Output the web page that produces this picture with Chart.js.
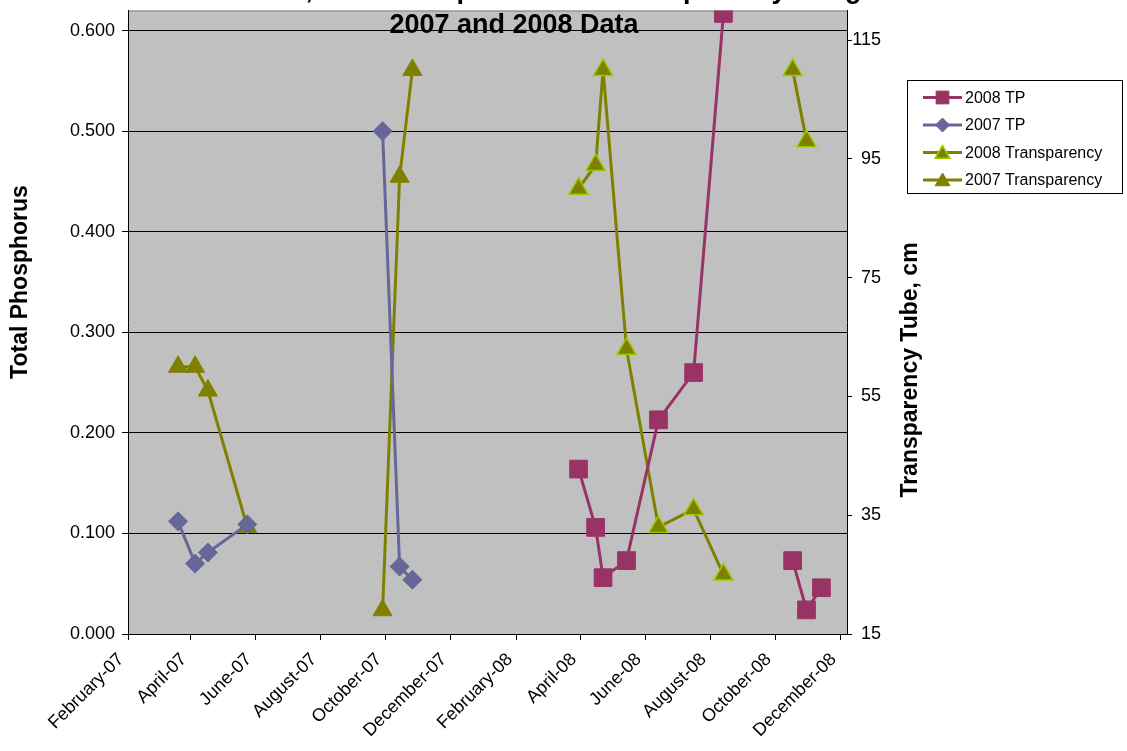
<!DOCTYPE html>
<html>
<head>
<meta charset="utf-8">
<title>Total Phosphorus and Transparency, 2007 and 2008</title>
<script src="https://cdn.jsdelivr.net/npm/chart.js@4.4.1/dist/chart.umd.min.js"></script>
<style>
  html, body { margin: 0; padding: 0; background: #ffffff; overflow: hidden; }
  #wrap { position: relative; width: 1127px; height: 751px; overflow: hidden; }
  /* the canvas is pulled up a little so the plot panel starts close to the top edge */
  #chart { display: block; margin-top: -3px; }
</style>
</head>
<body>
<div id="wrap"><canvas id="chart" width="1127" height="754"></canvas></div>
<script>
// ---- Sampling dates and readings (null = break between sampling seasons) ----
const dates2007 = ['2007-03-20', '2007-04-05', '2007-04-17', '2007-05-24', null,
                   '2007-09-28', '2007-10-14', '2007-10-26'];
const tp2007 = [0.112, 0.070, 0.081, 0.109, null, 0.500, 0.067, 0.054];
const transparency2007 = [60, 60, 56, 33, null, 19, 92, 110];

const dates2008 = ['2008-03-30', '2008-04-15', '2008-04-22', '2008-05-14', '2008-06-13',
                   '2008-07-16', '2008-08-13', null, '2008-10-17', '2008-10-30', '2008-11-13'];
const tp2008 = [0.164, 0.106, 0.056, 0.073, 0.213, 0.260, 0.617, null, 0.073, 0.024, 0.046];
const transparency2008 = [90, 94, 110, 63, 33, 36, 25, null, 110, 98, null];

// ---- Axis ticks and labels ----
const xTickDates = ['2007-02-01', '2007-04-01', '2007-06-01', '2007-08-01', '2007-10-01', '2007-12-01',
                    '2008-02-01', '2008-04-01', '2008-06-01', '2008-08-01', '2008-10-01', '2008-12-01'];
const xTickLabels = ['February-07', 'April-07', 'June-07', 'August-07', 'October-07', 'December-07',
                     'February-08', 'April-08', 'June-08', 'August-08', 'October-08', 'December-08'];
const xRange = ['2007-02-01', '2008-12-07'];
const tpTicks = [0, 0.1, 0.2, 0.3, 0.4, 0.5, 0.6];
const tpRange = [0, 0.62];
const transparencyTicks = [15, 35, 55, 75, 95, 115];
const transparencyRange = [15, 120];

const seriesNames = ['2008 TP', '2007 TP', '2008 Transparency', '2007 Transparency'];
const titleLines = ['Site, Total Phosphorus and Transparency Range', '2007 and 2008 Data'];
const leftAxisTitle = 'Total Phosphorus';
const rightAxisTitle = 'Transparency Tube, cm';

// ---- Helpers ----
const FONT = "'Liberation Sans', Arial, Helvetica, sans-serif";
const CANVAS_SHIFT = 3; // must match the CSS margin-top above
const dayNum = s => Date.parse(s + 'T00:00:00Z') / 86400000;
const toPoints = (dates, values) => dates.map((d, i) => ({
  x: d === null ? null : dayNum(d),
  y: values[i] === null || d === null ? null : values[i]
}));

const COLORS = {
  tp2008: '#993366',
  tp2007: '#666699',
  olive: '#808000',
  lime: '#99CC00'
};

const datasets = [
  {
    label: seriesNames[0], data: toPoints(dates2008, tp2008), yAxisID: 'y',
    borderColor: COLORS.tp2008, backgroundColor: COLORS.tp2008, borderWidth: 3,
    pointStyle: 'rect', pointRadius: 12.5, pointBorderWidth: 1,
    pointBackgroundColor: COLORS.tp2008, pointBorderColor: COLORS.tp2008,
    legendRadius: 9
  },
  {
    label: seriesNames[1], data: toPoints(dates2007, tp2007), yAxisID: 'y',
    borderColor: COLORS.tp2007, backgroundColor: COLORS.tp2007, borderWidth: 3,
    pointStyle: 'rectRot', pointRadius: 9.5, pointBorderWidth: 1,
    pointBackgroundColor: COLORS.tp2007, pointBorderColor: COLORS.tp2007,
    legendRadius: 7
  },
  {
    label: seriesNames[2], data: toPoints(dates2008, transparency2008), yAxisID: 'y2',
    borderColor: COLORS.olive, backgroundColor: COLORS.olive, borderWidth: 3,
    pointStyle: 'triangle', pointRadius: 11, pointBorderWidth: 1.5,
    pointBackgroundColor: COLORS.olive, pointBorderColor: COLORS.lime,
    legendRadius: 8.5
  },
  {
    label: seriesNames[3], data: toPoints(dates2007, transparency2007), yAxisID: 'y2',
    borderColor: COLORS.olive, backgroundColor: COLORS.olive, borderWidth: 3,
    pointStyle: 'triangle', pointRadius: 11, pointBorderWidth: 1,
    pointBackgroundColor: COLORS.olive, pointBorderColor: COLORS.olive,
    legendRadius: 8.5
  }
];
datasets.forEach(d => { d.spanGaps = false; d.tension = 0; d.fill = false; });

// Grey plot panel with a thin border along its top edge
const plotPanel = {
  id: 'plotPanel',
  beforeDraw(chart) {
    const { ctx, chartArea: a } = chart;
    ctx.save();
    ctx.fillStyle = '#C0C0C0';
    ctx.fillRect(a.left, a.top, a.right - a.left, a.bottom - a.top);
    ctx.strokeStyle = '#808080';
    ctx.lineWidth = 1;
    ctx.beginPath();
    ctx.moveTo(a.left, a.top + 0.5);
    ctx.lineTo(a.right, a.top + 0.5);
    ctx.stroke();
    ctx.restore();
  }
};

// Chart title, axis titles and the boxed legend (page coordinates)
const annotations = {
  id: 'annotations',
  afterDraw(chart) {
    const { ctx } = chart;
    ctx.save();
    ctx.translate(0, CANVAS_SHIFT);
    ctx.fillStyle = '#000';

    // title (first line runs off the top edge)
    ctx.font = `bold 27px ${FONT}`;
    ctx.textBaseline = 'alphabetic';
    ctx.textAlign = 'left';
    ctx.fillText(titleLines[0], 256, -2.5);
    ctx.textAlign = 'center';
    ctx.fillText(titleLines[1], 514, 32.5);

    // axis titles, both reading bottom-to-top
    ctx.font = `bold 23px ${FONT}`;
    ctx.textBaseline = 'middle';
    ctx.textAlign = 'center';
    [[leftAxisTitle, 21, 282], [rightAxisTitle, 911, 370]].forEach(([t, x, y]) => {
      ctx.save();
      ctx.translate(x, y);
      ctx.rotate(-Math.PI / 2);
      ctx.fillText(t, 0, 0);
      ctx.restore();
    });

    // legend
    const box = { x: 907.5, y: 80.5, w: 215, h: 113 };
    ctx.fillStyle = '#ffffff';
    ctx.fillRect(box.x, box.y, box.w, box.h);
    ctx.strokeStyle = '#000';
    ctx.lineWidth = 1;
    ctx.strokeRect(box.x, box.y, box.w, box.h);
    ctx.font = `16px ${FONT}`;
    ctx.textAlign = 'left';
    ctx.textBaseline = 'middle';
    chart.data.datasets.forEach((ds, i) => {
      const cy = 97.5 + i * 27.5;
      ctx.strokeStyle = ds.borderColor;
      ctx.lineWidth = 3;
      ctx.beginPath();
      ctx.moveTo(923, cy);
      ctx.lineTo(962, cy);
      ctx.stroke();
      ctx.fillStyle = ds.pointBackgroundColor;
      ctx.strokeStyle = ds.pointBorderColor;
      ctx.lineWidth = ds.pointBorderWidth;
      Chart.helpers.drawPoint(ctx, { pointStyle: ds.pointStyle, radius: ds.legendRadius, rotation: 0, borderWidth: ds.pointBorderWidth },
        942.5, ds.pointStyle === 'triangle' ? cy + 1.5 : cy);
      ctx.fillStyle = '#000';
      ctx.fillText(ds.label, 965, cy + 1);
    });
    ctx.restore();
  }
};

const tickFont = { family: FONT, size: 18 };
// vertical axes: no extra room for half-height end labels
const noEndPadding = s => { s.paddingTop = 0; s.paddingBottom = 0; };

new Chart(document.getElementById('chart'), {
  type: 'line',
  data: { datasets },
  options: {
    responsive: false,
    animation: false,
    events: [],
    layout: { padding: { left: 0, top: 7, right: 246, bottom: 0 } },
    plugins: { legend: { display: false }, title: { display: false }, tooltip: { enabled: false } },
    scales: {
      x: {
        type: 'linear',
        min: dayNum(xRange[0]),
        max: dayNum(xRange[1]),
        afterBuildTicks: s => { s.ticks = xTickDates.map(d => ({ value: dayNum(d) })); },
        afterFit: s => { s.height = 117; s.paddingLeft = 0; s.paddingRight = 0; },
        ticks: {
          autoSkip: false, minRotation: 45, maxRotation: 45, padding: 9, labelOffset: -7,
          font: tickFont, color: '#000',
          callback: (v, i) => xTickLabels[i]
        },
        grid: { drawOnChartArea: false, drawTicks: true, tickLength: 6, color: '#000', lineWidth: 1 },
        border: { display: true, color: '#000', width: 1 }
      },
      y: {
        position: 'left',
        min: tpRange[0], max: tpRange[1],
        afterBuildTicks: s => { s.ticks = tpTicks.map(v => ({ value: v })); },
        afterFit: s => { s.width = 128; noEndPadding(s); },
        ticks: { font: tickFont, color: '#000', padding: 7, callback: v => Number(v).toFixed(3) },
        grid: { drawOnChartArea: true, drawTicks: true, tickLength: 6, color: '#000', lineWidth: 1 },
        border: { display: true, color: '#000', width: 1 }
      },
      y2: {
        position: 'right',
        min: transparencyRange[0], max: transparencyRange[1],
        afterBuildTicks: s => { s.ticks = transparencyTicks.map(v => ({ value: v })); },
        afterFit: s => { s.width = 34; noEndPadding(s); },
        ticks: { font: tickFont, color: '#000', padding: 1, crossAlign: 'far', callback: v => String(v) },
        grid: { drawOnChartArea: false, drawTicks: true, tickLength: 5, color: '#000', lineWidth: 1 },
        border: { display: true, color: '#000', width: 1 }
      }
    }
  },
  plugins: [plotPanel, annotations]
});
</script>
</body>
</html>
